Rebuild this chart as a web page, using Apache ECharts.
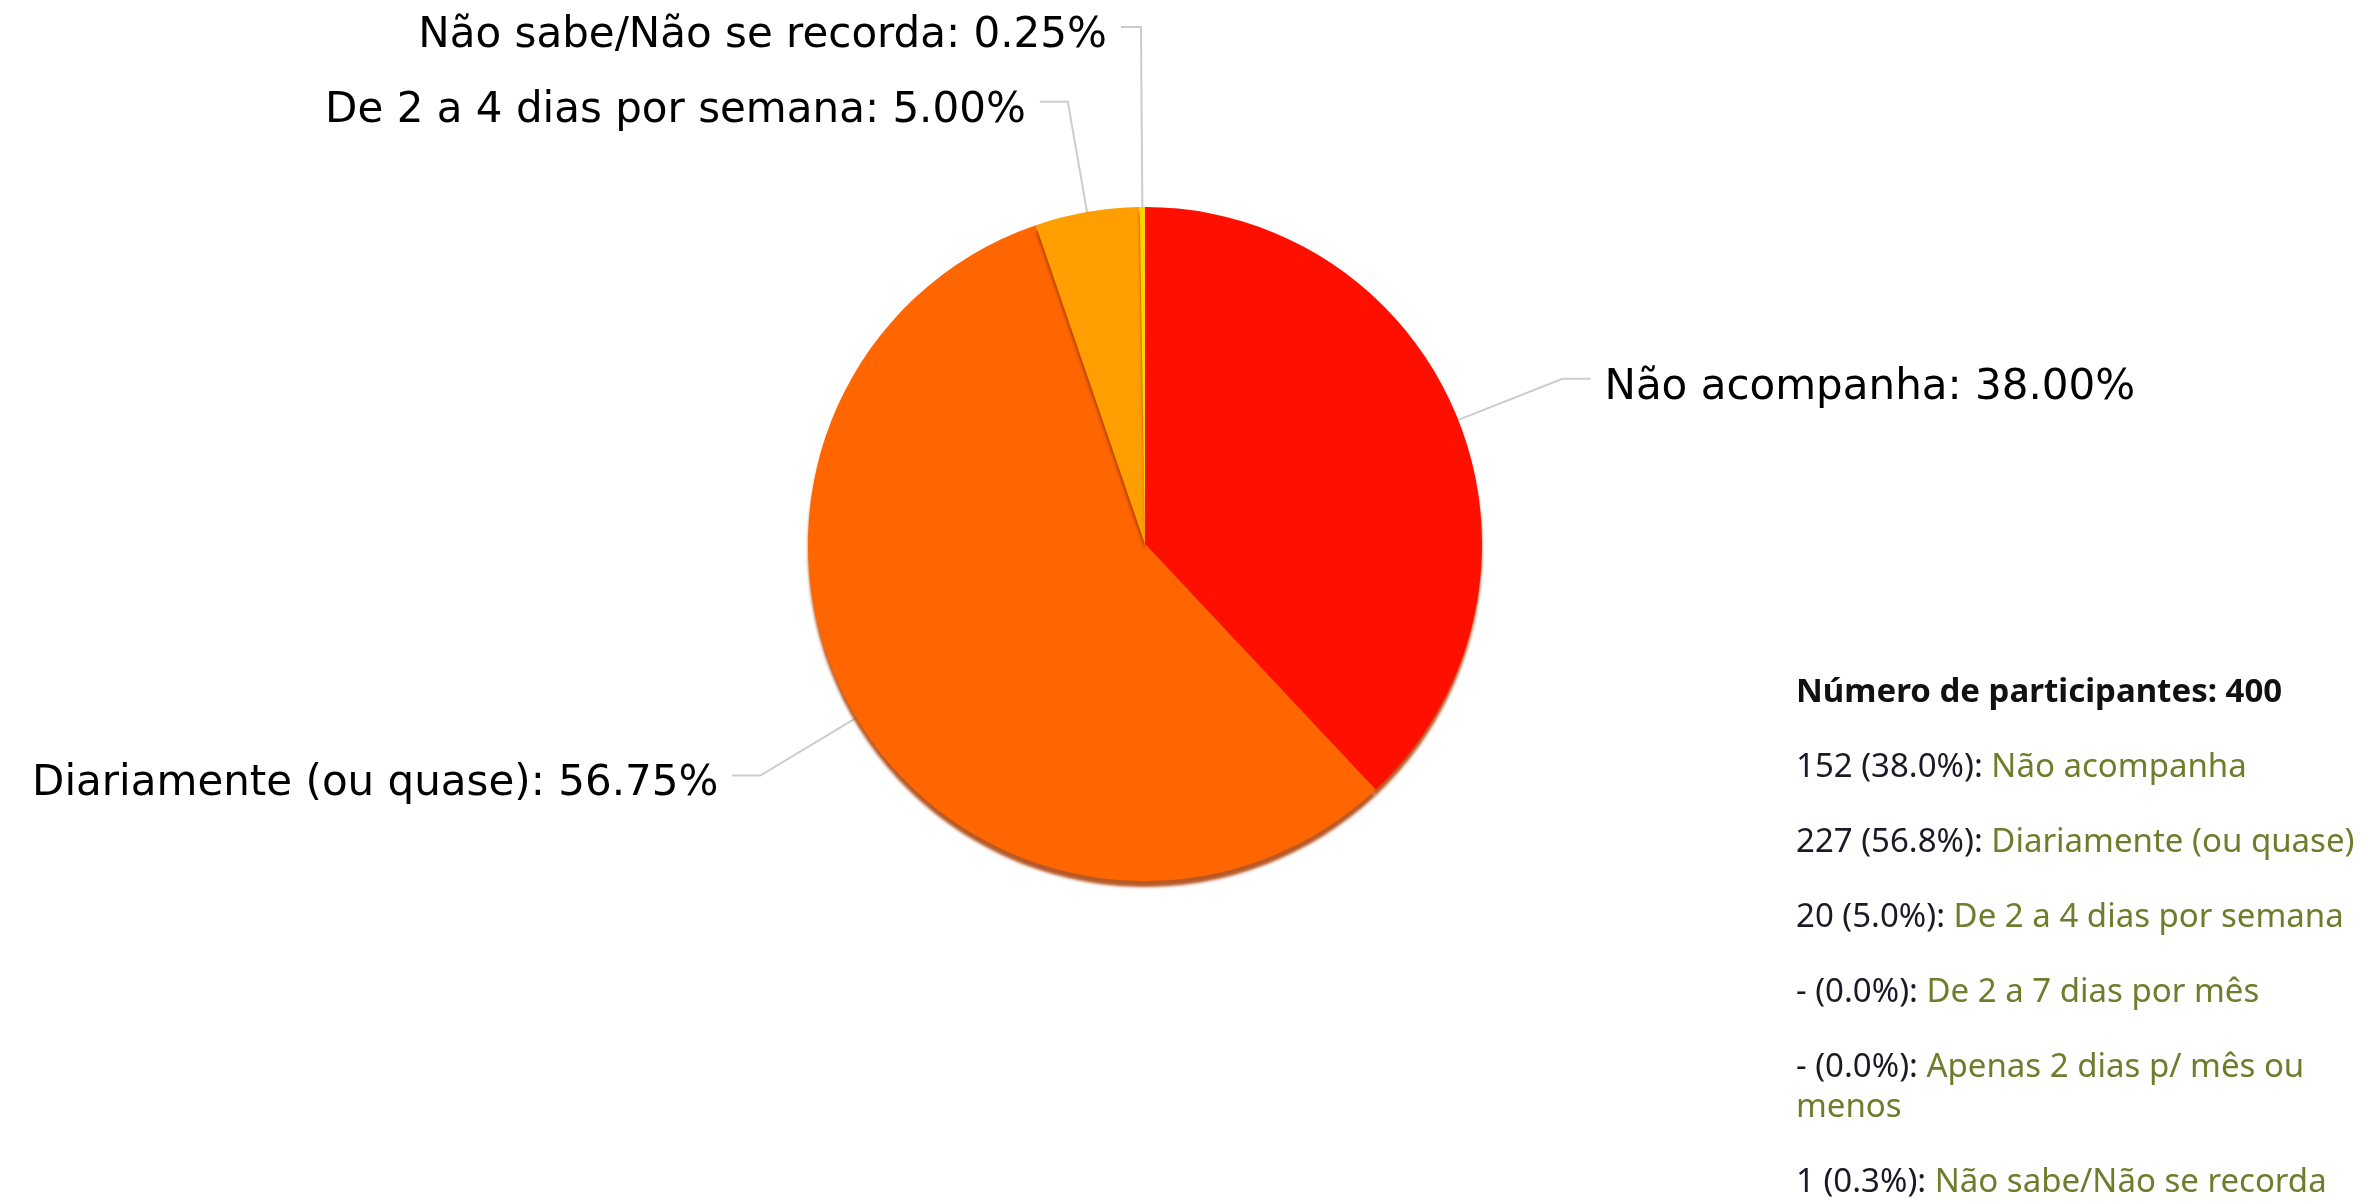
<!DOCTYPE html>
<html>
<head>
    <meta charset="utf-8">
    <title>Número de participantes</title>
    <style>
        html, body { margin: 0; padding: 0; background: #fff; }
        #container { width: 2366px; height: 1201px; }
    </style>
</head>
<body>
    <div id="container"></div>

    <script src="https://cdn.jsdelivr.net/npm/echarts@6/dist/echarts.min.js"></script>
    <script>
    // categorias e respostas (400 participantes)
    var categorias = ['Não acompanha', 'Diariamente (ou quase)', 'De 2 a 4 dias por semana',
        'De 2 a 7 dias por mês', 'Apenas 2 dias p/ mês ou menos', 'Não sabe/Não se recorda'];
    var respostas = [152, 227, 20, 0, 0, 1];
    var cores = ['#FF0F00', '#FF6600', '#FF9E01', '#FCD202', '#F8FF01', '#FCD202'];
    var tituloLegenda = 'Número de participantes: ';

    var total = 0;
    for (var i = 0; i < respostas.length; i++) total += respostas[i];

    // fatias só para respostas > 0
    var fatias = [];
    for (var i = 0; i < categorias.length; i++) {
        if (respostas[i] > 0) {
            var item = {name: categorias[i], value: respostas[i], itemStyle: {color: cores[i]}};
            // fatia muito fina: rótulo mais acima para não sobrepor
            if (respostas[i] / total < 0.01) {
                item.labelLine = {length: 180, length2: 20};
            }
            fatias.push(item);
        }
    }

    // legenda à direita
    var graficos = [{
        type: 'text',
        left: 1796,
        top: 676,
        style: {
            text: tituloLegenda + total,
            font: 'bold 33px "Noto Sans"',
            fill: '#111'
        }
    }];
    var y = 748;
    for (var i = 0; i < categorias.length; i++) {
        var n = respostas[i] > 0 ? respostas[i] : '-';
        var pct = (respostas[i] / total * 100).toFixed(1);
        graficos.push({
            type: 'text',
            left: 1796,
            top: y,
            style: {
                text: '{n|' + n + ' (' + pct + '%): }{c|' + categorias[i] + '}',
                width: 566,
                overflow: 'break',
                lineHeight: 40,
                rich: {
                    n: {font: '33px "Noto Sans"', fill: '#1a1a26', lineHeight: 40},
                    c: {font: '33px "Noto Sans"', fill: '#6e7d2c', lineHeight: 40}
                }
            }
        });
        y += (categorias[i].length > 26 ? 115 : 75);
    }

    var myChart = echarts.init(document.getElementById('container'));
    var option = {
        animation: false,
        graphic: graficos,
        series: [{
            type: 'pie',
            center: [1145, 544],
            radius: 337,
            startAngle: 90,
            clockwise: true,
            avoidLabelOverlap: true,
            data: fatias,
            label: {
                show: true,
                fontFamily: 'DejaVu Sans',
                fontSize: 42,
                color: '#000',
                offset: [0, 9],
                distanceToLabelLine: 14,
                formatter: function (p) {
                    return p.name + ': ' + (p.value / total * 100).toFixed(2) + '%';
                }
            },
            labelLine: {
                show: true,
                length: 112,
                length2: 28,
                lineStyle: {color: '#cccccc', width: 2}
            },
            itemStyle: {
                borderWidth: 0,
                shadowColor: 'rgba(170, 60, 0, 0.85)',
                shadowBlur: 3,
                shadowOffsetY: 6
            },
            emphasis: {disabled: true}
        }]
    };
    myChart.setOption(option);
    </script>
</body>
</html>
